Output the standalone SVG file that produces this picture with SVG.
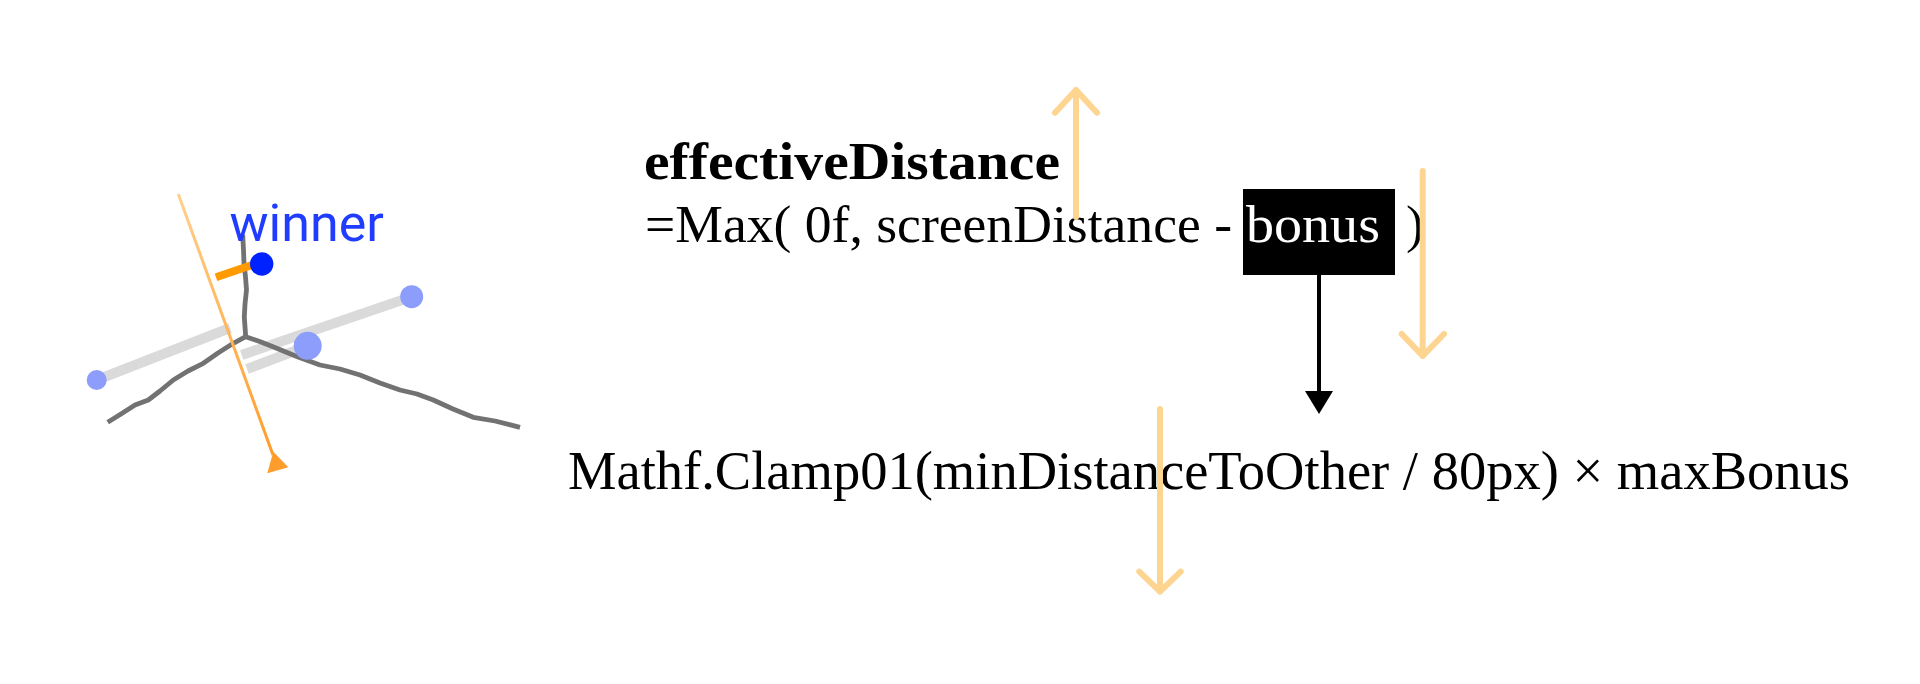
<svg xmlns="http://www.w3.org/2000/svg" width="1920" height="684" viewBox="0 0 1920 684">
  <defs>
    <style>
      .serif { font-family: "Liberation Serif", "Times New Roman", serif; fill: #000; }
      .band { stroke: #dadada; stroke-width: 10; fill: none; stroke-linecap: butt; }
      .road { stroke: #727272; stroke-width: 4.8; fill: none; stroke-linejoin: round; }
      .pale { stroke: #fdd591; stroke-width: 6; fill: none; stroke-linecap: round; stroke-linejoin: round; }
      .other { fill: #8c9dfb; }
    </style>
    <linearGradient id="og" x1="178" y1="194" x2="271" y2="450" gradientUnits="userSpaceOnUse">
      <stop offset="0" stop-color="#ffd08c"/>
      <stop offset="1" stop-color="#ff9d2c"/>
    </linearGradient>
  </defs>
  <rect width="1920" height="684" fill="#fff"/>

  <g id="scene">
    <line class="band" x1="96.7" y1="380" x2="230" y2="328"/>
    <line class="band" x1="241.7" y1="355" x2="411.7" y2="296.7"/>
    <line class="band" x1="247" y1="369" x2="307.7" y2="346"/>
    <polyline class="road" points="242.7,235 243.5,250 244,263 245.5,277 246.5,290 245,304 244.3,317 245.7,336.7"/>
    <polyline class="road" points="245.7,336.7 233.3,343.3 218,353 203.3,363.3 188,371 173.3,380 160,391 148.3,400 135,405 121,414 107.7,422.3"/>
    <polyline class="road" points="245.7,336.7 261,342 276.7,348.3 298,357 320,365 340,369 360,375 380,383 400,390 417,394 433.3,400 453,409 473.3,417.3 495,421 520,427.3"/>
    <circle class="other" cx="96.7" cy="380" r="10"/>
    <circle class="other" cx="411.7" cy="296.7" r="11.5"/>
    <circle class="other" cx="307.7" cy="345.8" r="14"/>
    <line x1="178.3" y1="194" x2="273" y2="455" stroke="url(#og)" stroke-width="3"/>
    <polygon points="273.3,451.7 288.3,467.3 267.3,473.3" fill="#ff9d2c"/>
    <line x1="216" y1="277.3" x2="252" y2="265" stroke="#ff9a00" stroke-width="8"/>
  </g>

  <g id="winner">
    <circle cx="261.7" cy="264" r="11.7" fill="#0022ff"/>
    <text x="229.5" y="241" font-family="Roboto, 'Liberation Sans', sans-serif" font-size="52" fill="#1f3cff">winner</text>
  </g>

  <g id="formula">
    <text class="serif" x="644" y="179" font-size="53" font-weight="bold" textLength="416" lengthAdjust="spacingAndGlyphs">effectiveDistance</text>
    <text class="serif" x="645" y="242" font-size="53" textLength="587" lengthAdjust="spacingAndGlyphs">=Max( 0f, screenDistance -</text>
    <text class="serif" x="1406" y="242" font-size="53">)</text>
  </g>

  <g id="bonus">
    <rect x="1243" y="189" width="152" height="86" fill="#000"/>
    <text class="serif" x="1246" y="242" font-size="53" style="fill:#fff" textLength="134" lengthAdjust="spacingAndGlyphs">bonus</text>
  </g>

  <g id="clamp">
    <text class="serif" x="568" y="489" font-size="54" textLength="1282" lengthAdjust="spacingAndGlyphs">Mathf.Clamp01(minDistanceToOther / 80px) × maxBonus</text>
  </g>

  <g id="connectors">
    <line x1="1319" y1="275" x2="1319" y2="392" stroke="#000" stroke-width="4"/>
    <polygon points="1305,391 1333,391 1319,414" fill="#000"/>
    <path class="pale" d="M1076,217 V90 M1055,112.7 L1076,90 L1097,112.7"/>
    <path class="pale" d="M1422.7,171 V356 M1401.7,334 L1422.7,356 L1444,334"/>
    <path class="pale" d="M1160,409 V591.7 M1139.3,571.7 L1160,591.7 L1180.7,571.7"/>
  </g>
</svg>
